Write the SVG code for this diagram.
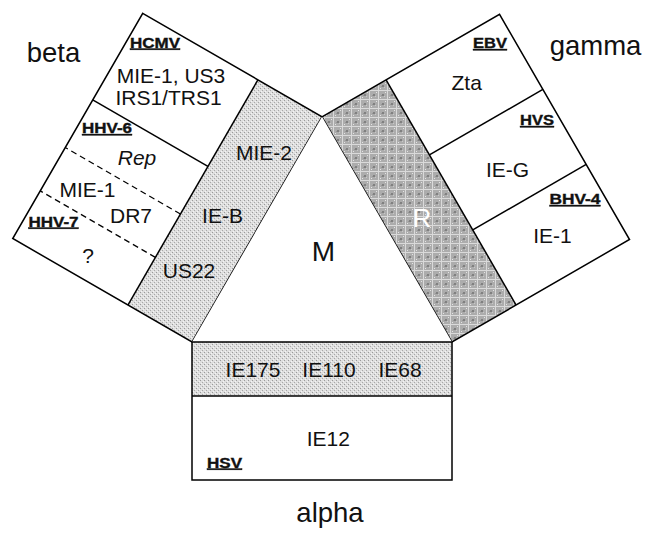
<svg xmlns="http://www.w3.org/2000/svg" width="647" height="537" viewBox="0 0 647 537">
<style>
.ol{fill:none;stroke:#000;stroke-width:1.5;stroke-linejoin:miter}
.dv{stroke:#000;stroke-width:1.5}
.ds{stroke:#000;stroke-width:1.2;stroke-dasharray:6 4}
text{font-family:"Liberation Sans",Arial,Helvetica,sans-serif;fill:#111}
.t{font-size:21px;text-anchor:middle}
.g{font-size:27.5px;text-anchor:middle}
.v{font-size:14px;font-weight:bold;text-decoration:underline;stroke:#111;stroke-width:0.35}
</style>
<defs>
<pattern id="stip" width="4" height="4" patternUnits="userSpaceOnUse">
<rect width="4" height="4" fill="#dedede"/>
<rect x="0" y="0" width="1" height="1" fill="#9a9a9a"/>
<rect x="2" y="2" width="1" height="1" fill="#a8a8a8"/>
<rect x="3" y="1" width="1" height="1" fill="#f4f4f4"/>
<rect x="1" y="3" width="1" height="1" fill="#f4f4f4"/>
</pattern>
<pattern id="check" width="9" height="9" patternUnits="userSpaceOnUse">
<rect width="9" height="9" fill="#acacac"/>
<rect x="0" y="0" width="9" height="1" fill="#dadada"/>
<rect x="0" y="0" width="1" height="9" fill="#dadada"/>
<rect x="4" y="4" width="2" height="2" fill="#808080"/>
<rect x="3" y="5" width="1" height="1" fill="#969696"/>
<rect x="2" y="7" width="1" height="1" fill="#e4e4e4"/>
<rect x="7" y="2" width="1" height="1" fill="#e4e4e4"/>
<rect x="6" y="6" width="1" height="1" fill="#c8c8c8"/>
</pattern>
</defs>

<g id="beta">
<polygon points="142.73,13.33 257.91,79.83 127.91,305 12.73,238.5" fill="#fff"/>
<polygon id="beta-band" points="322,116.83 257.91,79.83 127.91,305 192,342" fill="url(#stip)"/>
<polygon class="ol" points="142.73,13.33 322,116.83 192,342 12.73,238.5"/>
<line class="dv" x1="257.91" y1="79.83" x2="127.91" y2="305"/>
<line class="dv" x1="207.91" y1="166.43" x2="92.73" y2="99.93"/>
<line class="ds" x1="180.41" y1="214.06" x2="65.23" y2="147.56"/>
<line class="ds" x1="155.41" y1="257.36" x2="40.23" y2="190.86"/>
<text class="g" x="53.5" y="61.7">beta</text>
<text class="v" x="130" y="47.5" textLength="50" lengthAdjust="spacingAndGlyphs">HCMV</text>
<text class="t" x="171" y="83">MIE-1, US3</text>
<text class="t" x="168.5" y="105">IRS1/TRS1</text>
<text class="v" x="82" y="133" textLength="50" lengthAdjust="spacingAndGlyphs">HHV-6</text>
<text class="t" x="137" y="165" font-style="italic">Rep</text>
<text class="t" x="87.5" y="197">MIE-1</text>
<text class="t" x="131" y="223">DR7</text>
<text class="v" x="28.5" y="226.5" textLength="50" lengthAdjust="spacingAndGlyphs">HHV-7</text>
<text class="t" x="88" y="263">?</text>
<text class="t" x="264" y="160">MIE-2</text>
<text class="t" x="222.5" y="223">IE-B</text>
<text class="t" x="189" y="278">US22</text>
</g>

<g id="gamma">
<polygon points="386.09,79.83 499.53,14.33 629.53,239.5 516.09,305" fill="#fff"/>
<polygon id="gamma-band" points="322,116.83 386.09,79.83 516.09,305 452,342" fill="url(#check)"/>
<polygon class="ol" points="322,116.83 499.53,14.33 629.53,239.5 452,342"/>
<line class="dv" x1="386.09" y1="79.83" x2="516.09" y2="305"/>
<line class="dv" x1="429.42" y1="154.89" x2="542.87" y2="89.39"/>
<line class="dv" x1="472.76" y1="229.94" x2="586.21" y2="164.44"/>
<text class="g" x="595.5" y="55">gamma</text>
<text class="v" x="473" y="48" textLength="34" lengthAdjust="spacingAndGlyphs">EBV</text>
<text class="t" x="466.7" y="90">Zta</text>
<text class="v" x="520" y="125" textLength="34" lengthAdjust="spacingAndGlyphs">HVS</text>
<text class="t" x="507.5" y="177">IE-G</text>
<text class="v" x="549.5" y="204" textLength="51" lengthAdjust="spacingAndGlyphs">BHV-4</text>
<text class="t" x="552.5" y="243">IE-1</text>
<text x="422" y="226.7" font-size="26" text-anchor="middle" style="fill:#fff">R</text>
</g>

<g id="center">
<polygon points="322,116.83 452,342 192,342" fill="#fff"/>
<text x="323.3" y="260.7" font-size="28" text-anchor="middle">M</text>
</g>

<g id="alpha">
<rect x="192" y="342" width="260" height="54" fill="url(#stip)"/>
<rect x="192" y="396" width="260" height="84" fill="#fff"/>
<rect class="ol" x="192" y="342" width="260" height="138"/>
<line class="dv" x1="192" y1="396" x2="452" y2="396"/>
<text class="t" x="253" y="377">IE175</text>
<text class="t" x="329" y="377">IE110</text>
<text class="t" x="400" y="377">IE68</text>
<text class="t" x="328.3" y="445.7">IE12</text>
<text class="v" x="207" y="467.5" textLength="35" lengthAdjust="spacingAndGlyphs">HSV</text>
<text class="g" x="330" y="521.7">alpha</text>
</g>
</svg>
